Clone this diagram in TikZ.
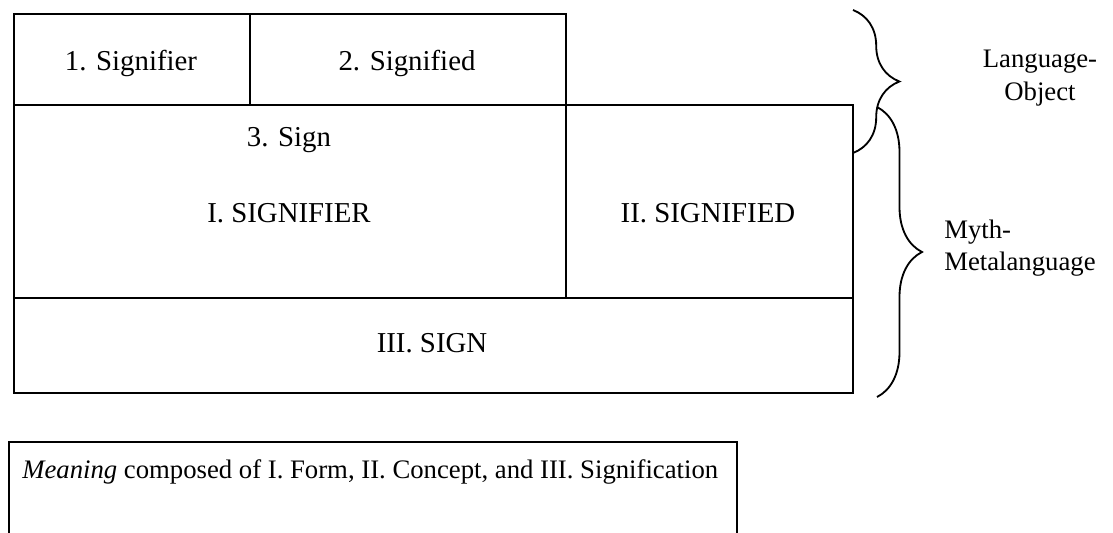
\documentclass[tikz,border=0pt]{standalone}
\usepackage{fontspec}
\setmainfont{Liberation Serif}
\usetikzlibrary{decorations.pathreplacing}
\tikzset{
cell/.style={rectangle, draw, line width=1.3pt, anchor=north west, inner sep=0pt},
txt/.style={font=\fontsize{19}{23}\selectfont, inner sep=0pt},
big/.style={font=\fontsize{20.5}{24}\selectfont, inner sep=0pt},
curly/.style={draw, line width=1.3pt, decorate, decoration={brace, amplitude=#1}}
}

\begin{document}
\begin{tikzpicture}[x=0.025cm, y=-0.025cm]
    \useasboundingbox (0,0) rectangle (1113,533);
    % First-order system
    \node [cell, minimum width=5.9cm, minimum height=2.275cm] (signifier) at (13,13) {};
    \node [cell, minimum width=7.9cm, minimum height=2.275cm] (signified) at (249,13) {};
    \node [big, anchor=base] at (131,70) {1. Signifier};
    \node [big, anchor=base] at (407,70) {2. Signified};
    % Second-order system
    \node [cell, minimum width=13.8cm, minimum height=4.825cm] (form) at (13,104) {};
    \node [cell, minimum width=7.175cm, minimum height=4.825cm] (concept) at (565,104) {};
    \node [cell, minimum width=20.975cm, minimum height=2.375cm] (signification) at (13,297) {};
    \node [big, anchor=base] (sign) at (289,146) {3. Sign};
    \node [big, anchor=base] (formtext) at (289,222) {I. SIGNIFIER};
    \node [big, anchor=base] (concepttext) at (708,222) {II. SIGNIFIED};
    \node [big, anchor=base] (signtext) at (432,352) {III. SIGN};
    % Braces
    \draw [curly=33pt] (853,10) -- (853,153);
    \draw [curly=32pt] (877,107) -- (877,397);
    \node [txt, align=center] (langobj) at (1040,78) {Language-\\Object};
    \node [txt, align=left, anchor=west] (myth) at (944,248) {Myth-\\Metalanguage};
    % Caption box
    \draw [line width=1.3pt] (9,533) |- (737,442) -- (737,533);
    \node [txt, anchor=base west] (meaning) at (22,478) {\textit{Meaning} composed of I. Form, II. Concept, and III. Signification};
\end{tikzpicture}
\end{document}
